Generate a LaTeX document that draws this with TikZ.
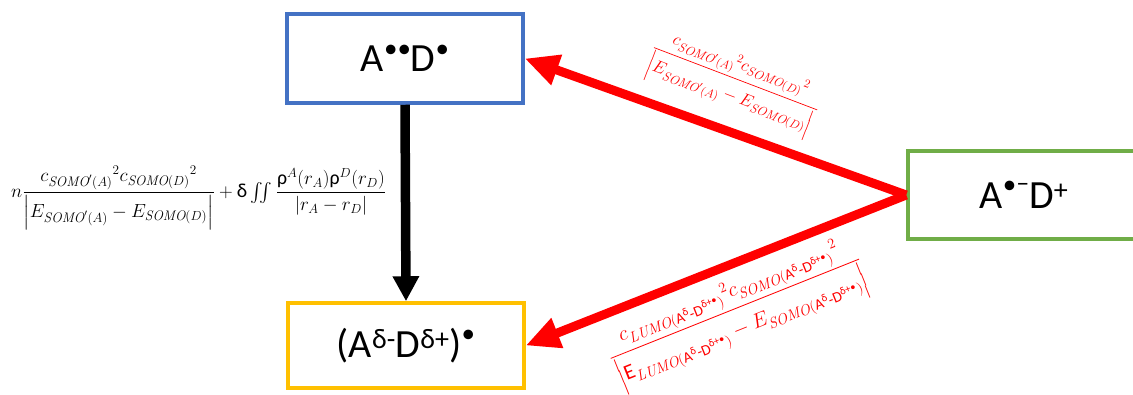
\documentclass[tikz,border=0pt]{standalone}
\usepackage{amsmath}
\usepackage{graphicx}
\usepackage{fontspec}
\newfontfamily\carlito{Carlito}
\usetikzlibrary{arrows.meta}
\definecolor{bluebox}{HTML}{4472C4}
\definecolor{yellowbox}{HTML}{FFC000}
\definecolor{greenbox}{HTML}{70AD47}
\newcommand\ssomo{\mathit{SOMO}}
\newcommand\slumo{\mathit{LUMO}}
\newcommand\tc[1]{\text{\carlito #1}}
\newcommand\adp{\tc{A}^{\tc{δ}}\tc{-D}^{\tc{δ+•}}}
\newcommand\raisedot[1]{\raisebox{0.36em}{\fontsize{27}{30}\selectfont #1}}
\tikzset{
  statebox/.style={draw, line width=3.5pt, fill=white, font=\carlito\fontsize{40}{48}\selectfont, inner sep=0pt},
  redarrow/.style={draw=red, line width=9pt, -{Triangle[length=34pt,width=30pt]}},
  blackarrow/.style={draw=black, line width=9.5pt, -{Triangle[length=25pt,width=25pt]}},
  redlabel/.style={text=red, inner sep=0pt}
}
\begin{document}
\begin{tikzpicture}[x=1pt,y=-1pt]
\useasboundingbox (0,0) rectangle (1133,394);
\clip (0,0) rectangle (1133,394);
\node[statebox, draw=bluebox, minimum width=236pt, minimum height=89pt] (ad) at (405,58.5) {A\raisedot{••}D\raisedot{•}};
\node[statebox, draw=yellowbox, minimum width=236pt, minimum height=85pt] (ci) at (406,345.5) {(A$^{\text{δ-}}$D$^{\text{δ+}}$)\raisedot{•}};
\node[statebox, draw=greenbox, minimum width=232pt, minimum height=88pt] (ct) at (1024,195) {A\raisedot{•}\raisebox{0.42em}{\fontsize{26}{30}\selectfont –}D$^{\text{+}}$};
\draw[blackarrow] (ad.south) -- (ci.north);
\draw[redarrow] (ct.west) -- (ad.east);
\draw[redarrow] (ct.west) -- (ci.east);
\node[inner sep=0pt, anchor=west] (lf) at (11,198) {\scalebox{1.1}{\fontsize{18}{21}\selectfont
 $n\dfrac{c_{\ssomo'(A)}{}^{2}c_{\ssomo(D)}{}^{2}}{\left|E_{\ssomo'(A)}-E_{\ssomo(D)}\right|}+\tc{δ}\iint\dfrac{\tc{ρ}^{A}(r_A)\tc{ρ}^{D}(r_D)}{|r_A-r_D|}$}};
\node[redlabel, rotate=-20.9] (ul) at (734,83) {\fontsize{18.5}{22}\selectfont
 $\dfrac{c_{\ssomo'(A)}{}^{2}c_{\ssomo(D)}{}^{2}}{\left|E_{\ssomo'(A)}-E_{\ssomo(D)}\right|}$};
\node[redlabel, rotate=21.8] (ll) at (737,314) {\fontsize{21.5}{25}\selectfont
 $\dfrac{c_{\slumo(\adp)}{}^{2}c_{\ssomo(\adp)}{}^{2}}{\left|\tc{E}_{\slumo(\adp)}-E_{\ssomo(\adp)}\right|}$};
\end{tikzpicture}
\end{document}
